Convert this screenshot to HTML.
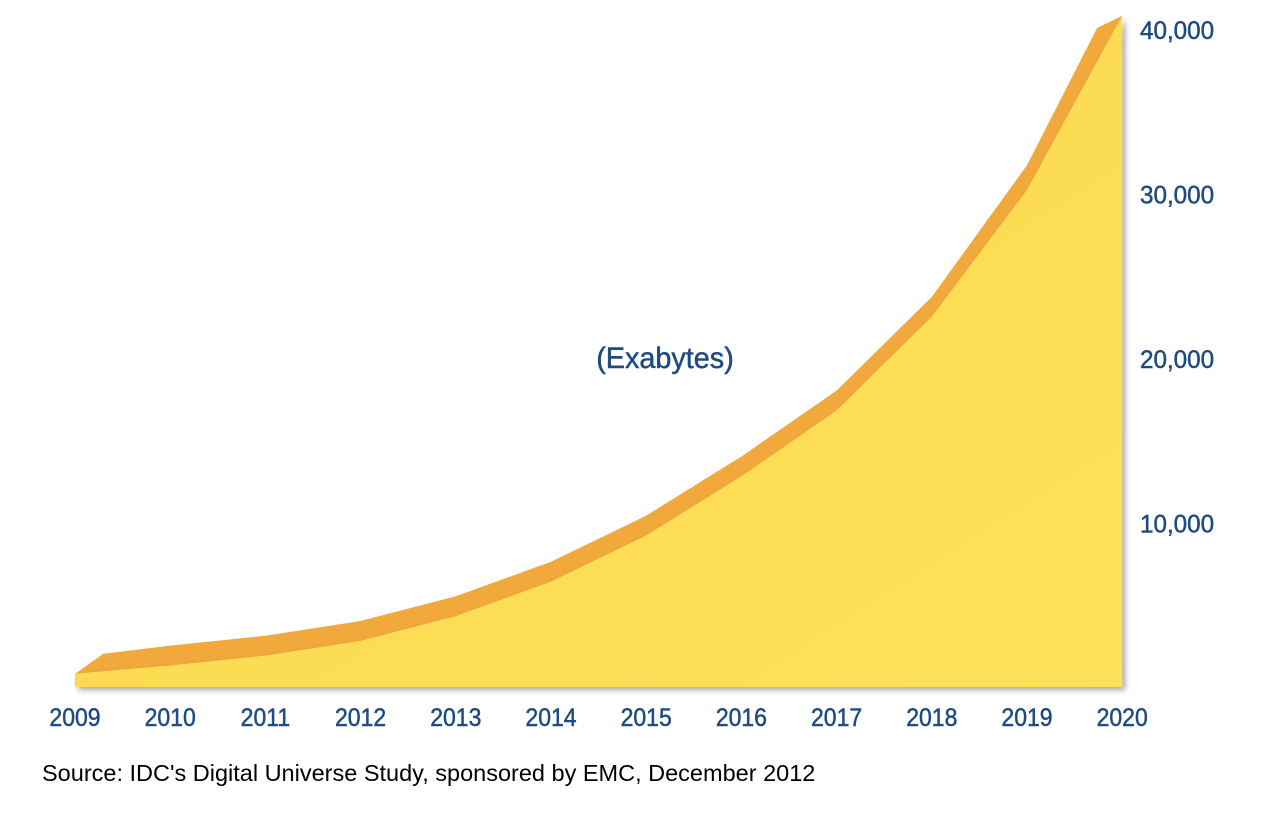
<!DOCTYPE html>
<html><head><meta charset="utf-8"><style>
html,body{margin:0;padding:0;background:#fff;width:1271px;height:816px;overflow:hidden}
svg{display:block}
.tick{font-family:"Liberation Sans",sans-serif;font-size:25px;fill:#1f4b80;stroke:#1f4b80;stroke-width:0.5}
</style></head><body>
<svg id="chart" width="1271" height="816" viewBox="0 0 1271 816">
<defs>
<linearGradient id="yg" x1="0" y1="0" x2="1" y2="1">
<stop offset="0" stop-color="#fcd447"/><stop offset="1" stop-color="#fde25a"/>
</linearGradient>
<filter id="sh" x="-5%" y="-5%" width="115%" height="115%"><feDropShadow dx="3" dy="3" stdDeviation="3" flood-color="#000" flood-opacity="0.35"/></filter>
</defs>
<g id="plot"></g>
<text x="665" y="368" text-anchor="middle" font-family="Liberation Sans, sans-serif" font-size="30" fill="#1f4b80" stroke="#1f4b80" stroke-width="0.5" transform="translate(665 0) scale(0.96 1) translate(-665 0)">(Exabytes)</text>
<text x="42" y="781" font-family="Liberation Sans, sans-serif" font-size="23.5" fill="#000">Source: IDC's Digital Universe Study, sponsored by EMC, December 2012</text>
</svg>
<script>
const years = ["2009","2010","2011","2012","2013","2014","2015","2016","2017","2018","2019","2020"];
const exabytes = [800, 1300, 1900, 2800, 4300, 6400, 9200, 12800, 16800, 22500, 30200, 40800];
const yTicks = [10000, 20000, 30000, 40000];
const yTickLabels = ["10,000","20,000","30,000","40,000"];

const NS = "http://www.w3.org/2000/svg";
const x0 = 75, xStep = 95.2, y0 = 687, pxPerUnit = 164.5/10000;
const xs = i => x0 + i*xStep;
const ys = v => y0 - v*pxPerUnit;
const g = document.getElementById('plot');
function mk(tag, attrs){const e=document.createElementNS(NS,tag);for(const k in attrs)e.setAttribute(k,attrs[k]);return e;}

const n = exabytes.length;
let band = [];
for(let i=0;i<n-1;i++){
  const dx = i===0 ? 28 : 0;
  band.push([xs(i)+dx, ys(exabytes[i]) - 20 + (i===n-2?-5:0)]);
}
band.push([xs(n-1)-25, ys(exabytes[n-1])+12]);
band.push([xs(n-1), ys(exabytes[n-1])]);
for(let i=n-1;i>=0;i--) band.push([xs(i), ys(exabytes[i])]);
const bandEl = mk('polygon',{points:band.map(p=>p.join(',')).join(' '),fill:'#f2a93b'});


g.appendChild(bandEl);

let pts = [[xs(0), y0]];
for(let i=0;i<n;i++) pts.push([xs(i), ys(exabytes[i])]);
pts.push([xs(n-1), y0]);
const area = mk('polygon',{points:pts.map(p=>p.join(',')).join(' '),fill:'url(#yg)',filter:'url(#sh)'});


g.appendChild(area);

years.forEach((y,i)=>{
  const t = mk('text',{x:xs(i),y:726,'text-anchor':'middle',class:'tick',transform:`translate(${xs(i)} 0) scale(0.92 1) translate(${-xs(i)} 0)`});
  t.textContent = y;
  
  
  g.appendChild(t);
});
yTicks.forEach((v,i)=>{
  const t = mk('text',{x:1140,y:ys(v)+10,class:'tick','font-size':'27',transform:`translate(1140 0) scale(0.97 1) translate(-1140 0)`});
  t.textContent = yTickLabels[i];
  
  
  g.appendChild(t);
});
</script>
</body></html>
